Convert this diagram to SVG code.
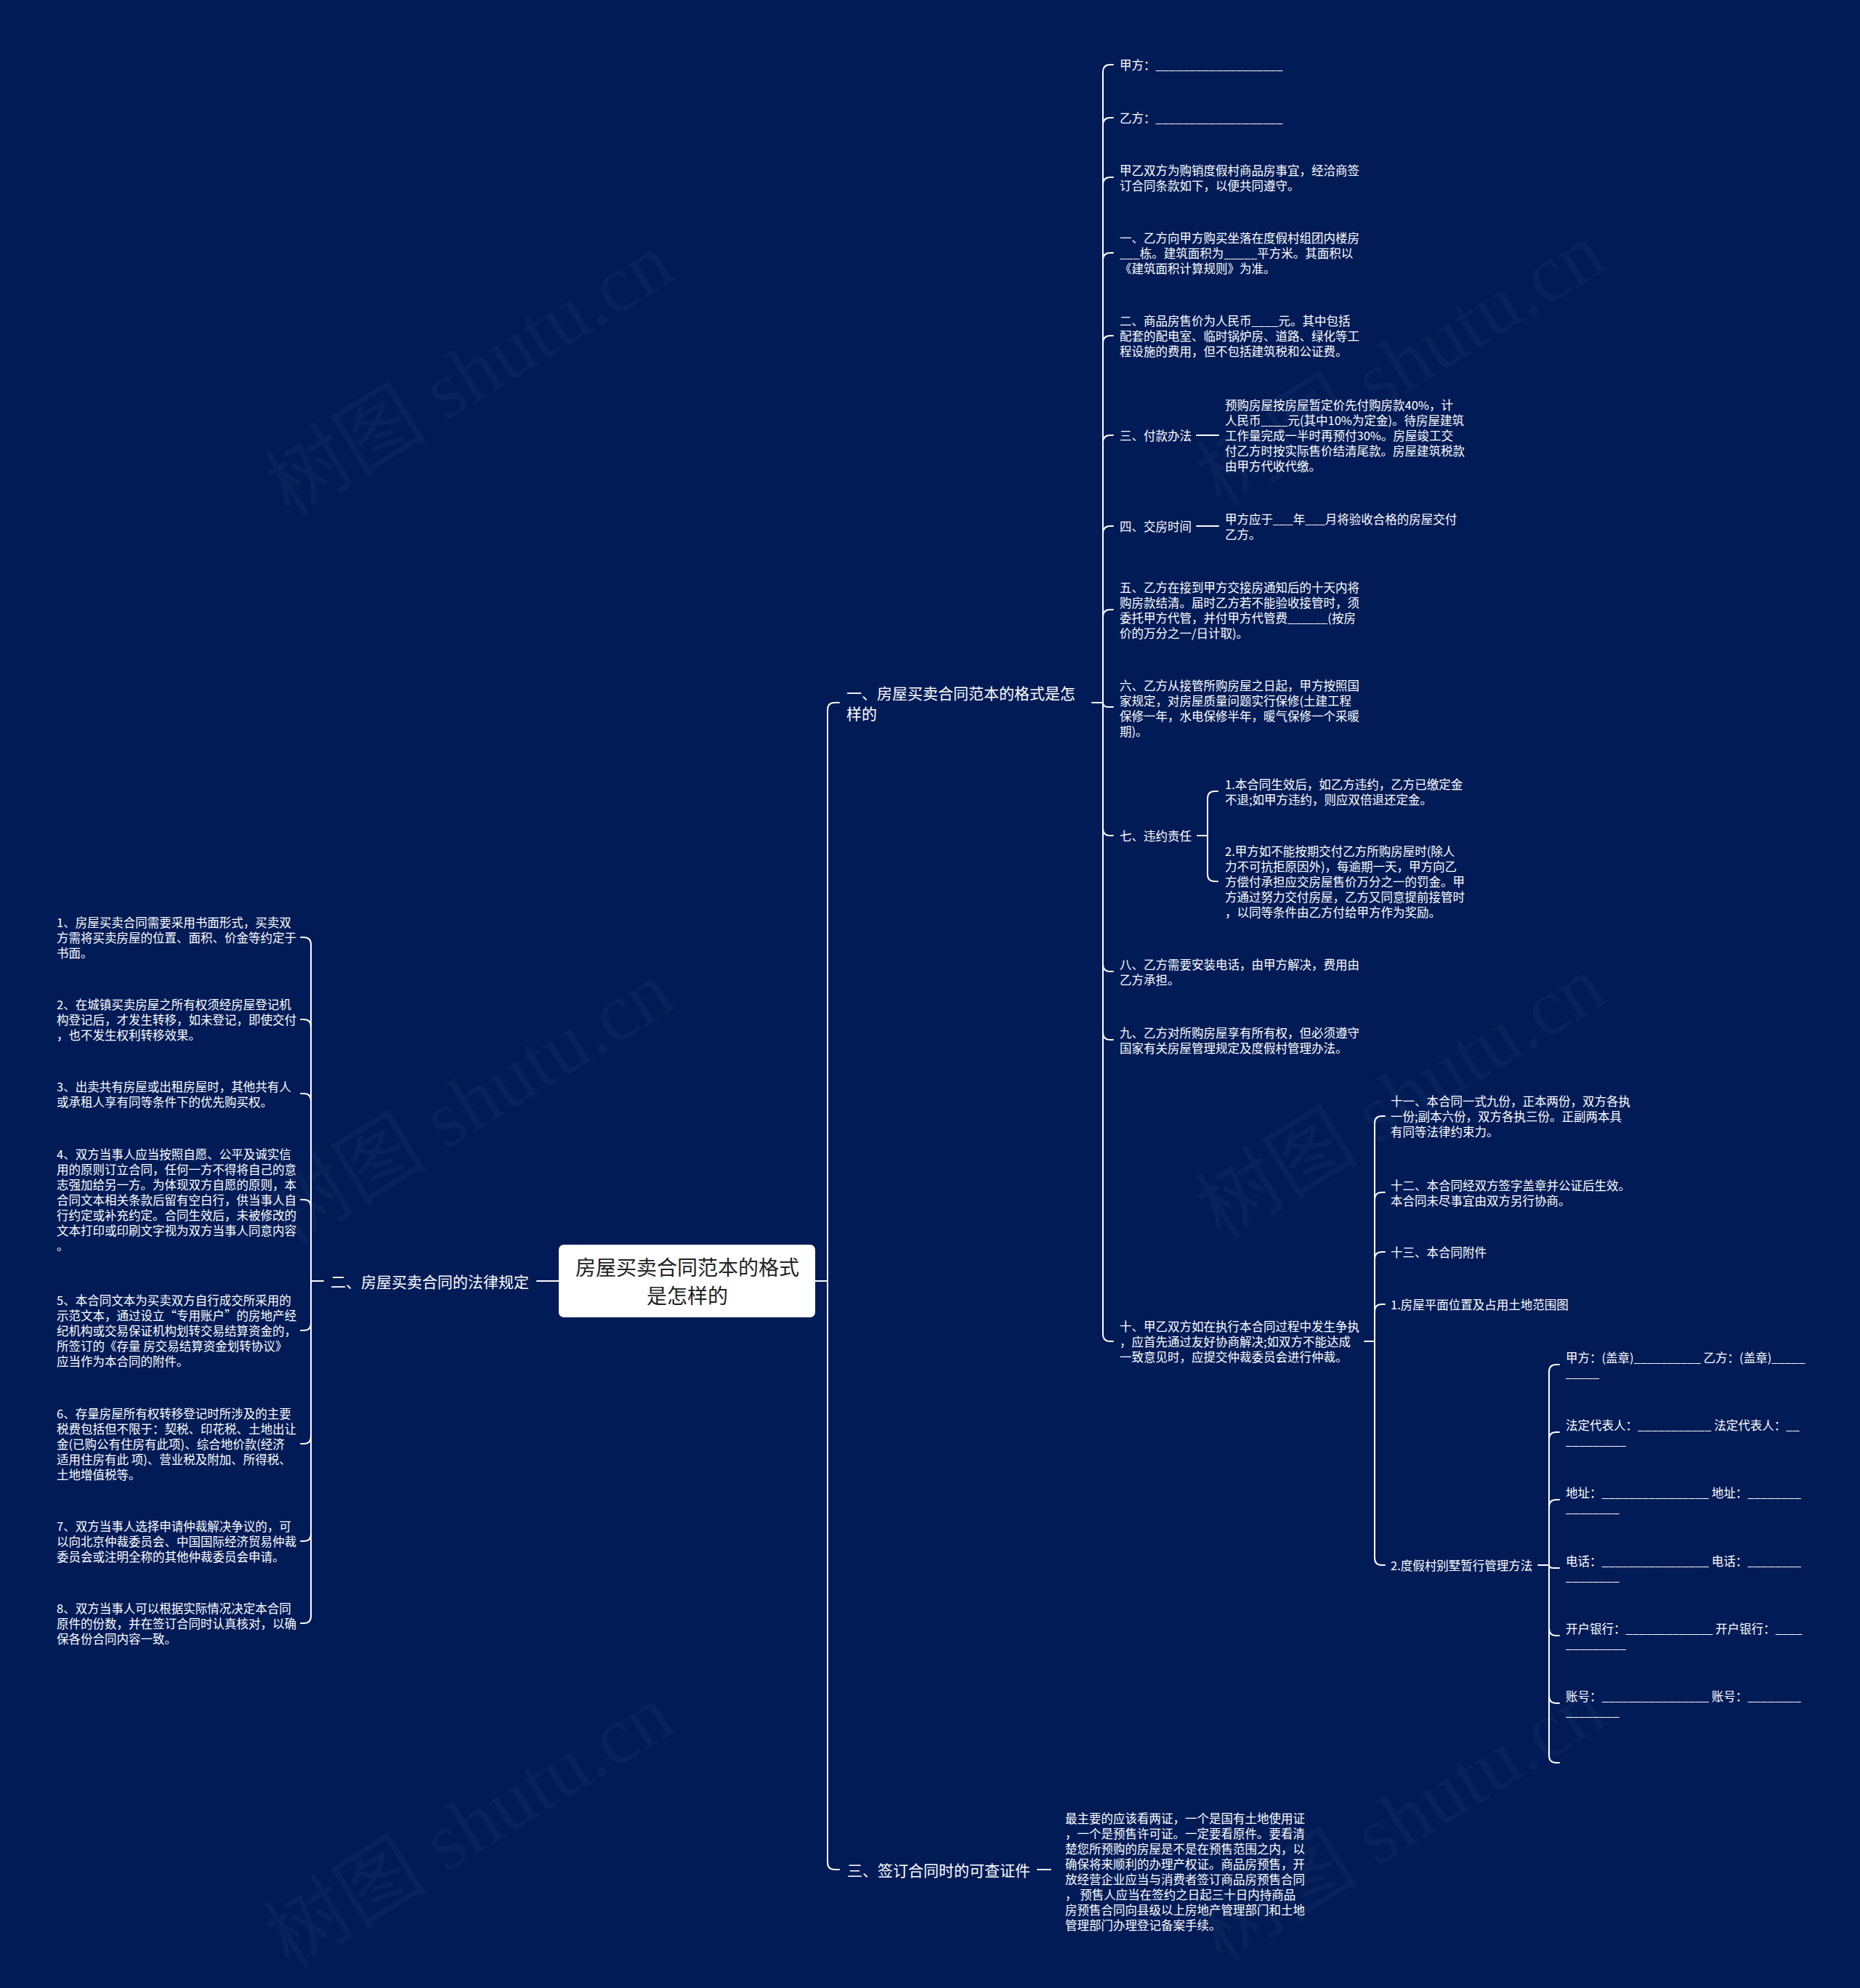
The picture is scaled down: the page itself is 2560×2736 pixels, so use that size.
<svg xmlns="http://www.w3.org/2000/svg" width="2560" height="2736" viewBox="0 0 2560 2736">
<style>
.t{font-family:"Noto Sans CJK SC","Noto Sans",sans-serif;fill:#ffffff;font-size:16.5px;dominant-baseline:central}
.b{font-size:21px}
.c{font-size:28px;fill:#222222;text-anchor:middle}
.ln{fill:none;stroke:#ffffff;stroke-width:2;stroke-linecap:round;stroke-linejoin:round}
.wm{font-family:"Liberation Serif","Noto Sans CJK SC",serif;font-size:112px;fill:#ffffff;fill-opacity:0.03;text-anchor:middle;dominant-baseline:central}
</style>
<rect x="0" y="0" width="2560" height="2736" fill="#011b57"/>
<g id="watermarks">
<text class="wm" transform="translate(646,515) rotate(-31.7)">树图 shutu.cn</text>
<text class="wm" transform="translate(1928,501) rotate(-31.7)">树图 shutu.cn</text>
<text class="wm" transform="translate(646,1518) rotate(-31.7)">树图 shutu.cn</text>
<text class="wm" transform="translate(1928,1510) rotate(-31.7)">树图 shutu.cn</text>
<text class="wm" transform="translate(646,2513) rotate(-31.7)">树图 shutu.cn</text>
<text class="wm" transform="translate(1928,2504) rotate(-31.7)">树图 shutu.cn</text>
</g>
<g id="connectors" class="ln">
<path d="M1122,1763 H1139"/>
<path d="M1139,1763 V977 Q1139,967 1149,967 H1155"/>
<path d="M1139,1763 V2563 Q1139,2573 1149,2573 H1155"/>
<path d="M770,1763 H739"/>
<path d="M445,1763 H428"/>
<path d="M428,1763 V1300 Q428,1290 418,1290 H414"/>
<path d="M428,1763 V1413 Q428,1403 418,1403 H414"/>
<path d="M428,1763 V1515 Q428,1505 418,1505 H414"/>
<path d="M428,1763 V1661 Q428,1651 418,1651 H414"/>
<path d="M428,1763 V1821 Q428,1831 418,1831 H414"/>
<path d="M428,1763 V1977 Q428,1987 418,1987 H414"/>
<path d="M428,1763 V2111 Q428,2121 418,2121 H414"/>
<path d="M428,1763 V2224 Q428,2234 418,2234 H414"/>
<path d="M1503,967 H1518"/>
<path d="M1518,967 V99 Q1518,89 1528,89 H1532"/>
<path d="M1518,967 V172 Q1518,162 1528,162 H1532"/>
<path d="M1518,967 V254 Q1518,244 1528,244 H1532"/>
<path d="M1518,967 V358 Q1518,348 1528,348 H1532"/>
<path d="M1518,967 V472 Q1518,462 1528,462 H1532"/>
<path d="M1518,967 V609 Q1518,599 1528,599 H1532"/>
<path d="M1518,967 V734 Q1518,724 1528,724 H1532"/>
<path d="M1518,967 V849 Q1518,839 1528,839 H1532"/>
<path d="M1518,967 Q1518,973 1525,973 H1532"/>
<path d="M1518,967 V1140 Q1518,1150 1528,1150 H1532"/>
<path d="M1518,967 V1327 Q1518,1337 1528,1337 H1532"/>
<path d="M1518,967 V1421 Q1518,1431 1528,1431 H1532"/>
<path d="M1518,967 V1836 Q1518,1846 1528,1846 H1532"/>
<path d="M1647,599 H1677"/>
<path d="M1647,724 H1677"/>
<path d="M1648,1150 H1662"/>
<path d="M1662,1150 V1099 Q1662,1089 1672,1089 H1676"/>
<path d="M1662,1150 V1203 Q1662,1213 1672,1213 H1676"/>
<path d="M1878,1846 H1892"/>
<path d="M1892,1846 V1546 Q1892,1536 1902,1536 H1906"/>
<path d="M1892,1846 V1651 Q1892,1641 1902,1641 H1906"/>
<path d="M1892,1846 V1733 Q1892,1723 1902,1723 H1906"/>
<path d="M1892,1846 V1805 Q1892,1795 1902,1795 H1906"/>
<path d="M1892,1846 V2144 Q1892,2154 1902,2154 H1906"/>
<path d="M2117,2154 H2132"/>
<path d="M2132,2154 V1888 Q2132,1878 2142,1878 H2146"/>
<path d="M2132,2154 V1981 Q2132,1971 2142,1971 H2146"/>
<path d="M2132,2154 V2074 Q2132,2064 2142,2064 H2146"/>
<path d="M2132,2154 Q2132,2158 2138,2158 H2146"/>
<path d="M2132,2154 V2241 Q2132,2251 2142,2251 H2146"/>
<path d="M2132,2154 V2334 Q2132,2344 2142,2344 H2146"/>
<path d="M2132,2154 V2416 Q2132,2426 2142,2426 H2146"/>
<path d="M1428,2573 H1446"/>
</g>
<g id="root">
<rect x="769" y="1713" width="353" height="100" rx="7" fill="#ffffff"/>
<text class="t c"><tspan x="946" y="1743">房屋买卖合同范本的格式</tspan><tspan x="946" y="1782">是怎样的</tspan></text>
</g>
<g id="branch1">
<text class="t b"><tspan x="1165" y="953">一、房屋买卖合同范本的格式是怎</tspan><tspan x="1165" y="981">样的</tspan></text>
</g>
<g id="branch2">
<text class="t b"><tspan x="455" y="1763">二、房屋买卖合同的法律规定</tspan></text>
</g>
<g id="branch3">
<text class="t b"><tspan x="1166" y="2573">三、签订合同时的可查证件</tspan></text>
</g>
<g id="n1-1"><text class="t"><tspan x="1541" y="89">甲方：___________________</tspan></text></g>
<g id="n1-2"><text class="t"><tspan x="1541" y="162">乙方：___________________</tspan></text></g>
<g id="n1-3"><text class="t"><tspan x="1541" y="234">甲乙双方为购销度假村商品房事宜，经洽商签</tspan><tspan x="1541" dy="21">订合同条款如下，以便共同遵守。</tspan></text></g>
<g id="n1-4"><text class="t"><tspan x="1541" y="327">一、乙方向甲方购买坐落在度假村组团内楼房</tspan><tspan x="1541" dy="21">___栋。建筑面积为_____平方米。其面积以</tspan><tspan x="1541" dy="21">《建筑面积计算规则》为准。</tspan></text></g>
<g id="n1-5"><text class="t"><tspan x="1541" y="441">二、商品房售价为人民币____元。其中包括</tspan><tspan x="1541" dy="21">配套的配电室、临时锅炉房、道路、绿化等工</tspan><tspan x="1541" dy="21">程设施的费用，但不包括建筑税和公证费。</tspan></text></g>
<g id="n1-6"><text class="t"><tspan x="1541" y="599">三、付款办法</tspan></text></g>
<g id="n1-6-1"><text class="t"><tspan x="1686" y="557">预购房屋按房屋暂定价先付购房款40%，计</tspan><tspan x="1686" dy="21">人民币____元(其中10%为定金)。待房屋建筑</tspan><tspan x="1686" dy="21">工作量完成一半时再预付30%。房屋竣工交</tspan><tspan x="1686" dy="21">付乙方时按实际售价结清尾款。房屋建筑税款</tspan><tspan x="1686" dy="21">由甲方代收代缴。</tspan></text></g>
<g id="n1-7"><text class="t"><tspan x="1541" y="724">四、交房时间</tspan></text></g>
<g id="n1-7-1"><text class="t"><tspan x="1686" y="713.5">甲方应于___年___月将验收合格的房屋交付</tspan><tspan x="1686" dy="21">乙方。</tspan></text></g>
<g id="n1-8"><text class="t"><tspan x="1541" y="807.5">五、乙方在接到甲方交接房通知后的十天内将</tspan><tspan x="1541" dy="21">购房款结清。届时乙方若不能验收接管时，须</tspan><tspan x="1541" dy="21">委托甲方代管，并付甲方代管费______(按房</tspan><tspan x="1541" dy="21">价的万分之一/日计取)。</tspan></text></g>
<g id="n1-9"><text class="t"><tspan x="1541" y="942.5">六、乙方从接管所购房屋之日起，甲方按照国</tspan><tspan x="1541" dy="21">家规定，对房屋质量问题实行保修(土建工程</tspan><tspan x="1541" dy="21">保修一年，水电保修半年，暖气保修一个采暖</tspan><tspan x="1541" dy="21">期)。</tspan></text></g>
<g id="n1-10"><text class="t"><tspan x="1541" y="1150">七、违约责任</tspan></text></g>
<g id="n1-10-1"><text class="t"><tspan x="1686" y="1078.5">1.本合同生效后，如乙方违约，乙方已缴定金</tspan><tspan x="1686" dy="21">不退;如甲方违约，则应双倍退还定金。</tspan></text></g>
<g id="n1-10-2"><text class="t"><tspan x="1686" y="1171">2.甲方如不能按期交付乙方所购房屋时(除人</tspan><tspan x="1686" dy="21">力不可抗拒原因外)，每逾期一天，甲方向乙</tspan><tspan x="1686" dy="21">方偿付承担应交房屋售价万分之一的罚金。甲</tspan><tspan x="1686" dy="21">方通过努力交付房屋，乙方又同意提前接管时</tspan><tspan x="1686" dy="21">，以同等条件由乙方付给甲方作为奖励。</tspan></text></g>
<g id="n1-11"><text class="t"><tspan x="1541" y="1326.5">八、乙方需要安装电话，由甲方解决，费用由</tspan><tspan x="1541" dy="21">乙方承担。</tspan></text></g>
<g id="n1-12"><text class="t"><tspan x="1541" y="1420.5">九、乙方对所购房屋享有所有权，但必须遵守</tspan><tspan x="1541" dy="21">国家有关房屋管理规定及度假村管理办法。</tspan></text></g>
<g id="n1-13"><text class="t"><tspan x="1541" y="1825">十、甲乙双方如在执行本合同过程中发生争执</tspan><tspan x="1541" dy="21">，应首先通过友好协商解决;如双方不能达成</tspan><tspan x="1541" dy="21">一致意见时，应提交仲裁委员会进行仲裁。</tspan></text></g>
<g id="n1-13-1"><text class="t"><tspan x="1914" y="1515">十一、本合同一式九份，正本两份，双方各执</tspan><tspan x="1914" dy="21">一份;副本六份，双方各执三份。正副两本具</tspan><tspan x="1914" dy="21">有同等法律约束力。</tspan></text></g>
<g id="n1-13-2"><text class="t"><tspan x="1914" y="1630.5">十二、本合同经双方签字盖章并公证后生效。</tspan><tspan x="1914" dy="21">本合同未尽事宜由双方另行协商。</tspan></text></g>
<g id="n1-13-3"><text class="t"><tspan x="1914" y="1723">十三、本合同附件</tspan></text></g>
<g id="n1-13-4"><text class="t"><tspan x="1914" y="1795">1.房屋平面位置及占用土地范围图</tspan></text></g>
<g id="n1-13-5"><text class="t"><tspan x="1914" y="2154">2.度假村别墅暂行管理方法</tspan></text></g>
<g id="n1-13-5-1"><text class="t"><tspan x="2155" y="1867.5">甲方：(盖章)__________ 乙方：(盖章)_____</tspan><tspan x="2155" dy="21">_____</tspan></text></g>
<g id="n1-13-5-2"><text class="t"><tspan x="2155" y="1960.5">法定代表人：___________ 法定代表人：__</tspan><tspan x="2155" dy="21">_________</tspan></text></g>
<g id="n1-13-5-3"><text class="t"><tspan x="2155" y="2053.5">地址：________________ 地址：________</tspan><tspan x="2155" dy="21">________</tspan></text></g>
<g id="n1-13-5-4"><text class="t"><tspan x="2155" y="2147.5">电话：________________ 电话：________</tspan><tspan x="2155" dy="21">________</tspan></text></g>
<g id="n1-13-5-5"><text class="t"><tspan x="2155" y="2240.5">开户银行：_____________ 开户银行：____</tspan><tspan x="2155" dy="21">_________</tspan></text></g>
<g id="n1-13-5-6"><text class="t"><tspan x="2155" y="2333.5">账号：________________ 账号：________</tspan><tspan x="2155" dy="21">________</tspan></text></g>
<g id="n2-1"><text class="t"><tspan x="78" y="1269">1、房屋买卖合同需要采用书面形式，买卖双</tspan><tspan x="78" dy="21">方需将买卖房屋的位置、面积、价金等约定于</tspan><tspan x="78" dy="21">书面。</tspan></text></g>
<g id="n2-2"><text class="t"><tspan x="78" y="1382">2、在城镇买卖房屋之所有权须经房屋登记机</tspan><tspan x="78" dy="21">构登记后，才发生转移，如未登记，即使交付</tspan><tspan x="78" dy="21">，也不发生权利转移效果。</tspan></text></g>
<g id="n2-3"><text class="t"><tspan x="78" y="1494.5">3、出卖共有房屋或出租房屋时，其他共有人</tspan><tspan x="78" dy="21">或承租人享有同等条件下的优先购买权。</tspan></text></g>
<g id="n2-4"><text class="t"><tspan x="78" y="1588">4、双方当事人应当按照自愿、公平及诚实信</tspan><tspan x="78" dy="21">用的原则订立合同，任何一方不得将自己的意</tspan><tspan x="78" dy="21">志强加给另一方。为体现双方自愿的原则，本</tspan><tspan x="78" dy="21">合同文本相关条款后留有空白行，供当事人自</tspan><tspan x="78" dy="21">行约定或补充约定。合同生效后，未被修改的</tspan><tspan x="78" dy="21">文本打印或印刷文字视为双方当事人同意内容</tspan><tspan x="78" dy="21">。</tspan></text></g>
<g id="n2-5"><text class="t"><tspan x="78" y="1789">5、本合同文本为买卖双方自行成交所采用的</tspan><tspan x="78" dy="21">示范文本，通过设立“专用账户”的房地产经</tspan><tspan x="78" dy="21">纪机构或交易保证机构划转交易结算资金的，</tspan><tspan x="78" dy="21">所签订的《存量 房交易结算资金划转协议》</tspan><tspan x="78" dy="21">应当作为本合同的附件。</tspan></text></g>
<g id="n2-6"><text class="t"><tspan x="78" y="1945">6、存量房屋所有权转移登记时所涉及的主要</tspan><tspan x="78" dy="21">税费包括但不限于：契税、印花税、土地出让</tspan><tspan x="78" dy="21">金(已购公有住房有此项)、综合地价款(经济</tspan><tspan x="78" dy="21">适用住房有此 项)、营业税及附加、所得税、</tspan><tspan x="78" dy="21">土地增值税等。</tspan></text></g>
<g id="n2-7"><text class="t"><tspan x="78" y="2100">7、双方当事人选择申请仲裁解决争议的，可</tspan><tspan x="78" dy="21">以向北京仲裁委员会、中国国际经济贸易仲裁</tspan><tspan x="78" dy="21">委员会或注明全称的其他仲裁委员会申请。</tspan></text></g>
<g id="n2-8"><text class="t"><tspan x="78" y="2213">8、双方当事人可以根据实际情况决定本合同</tspan><tspan x="78" dy="21">原件的份数，并在签订合同时认真核对，以确</tspan><tspan x="78" dy="21">保各份合同内容一致。</tspan></text></g>
<g id="n3-1"><text class="t"><tspan x="1466" y="2501.5">最主要的应该看两证，一个是国有土地使用证</tspan><tspan x="1466" dy="21">，一个是预售许可证。一定要看原件。要看清</tspan><tspan x="1466" dy="21">楚您所预购的房屋是不是在预售范围之内，以</tspan><tspan x="1466" dy="21">确保将来顺利的办理产权证。商品房预售，开</tspan><tspan x="1466" dy="21">放经营企业应当与消费者签订商品房预售合同</tspan><tspan x="1466" dy="21">， 预售人应当在签约之日起三十日内持商品</tspan><tspan x="1466" dy="21">房预售合同向县级以上房地产管理部门和土地</tspan><tspan x="1466" dy="21">管理部门办理登记备案手续。</tspan></text></g>
</svg>
